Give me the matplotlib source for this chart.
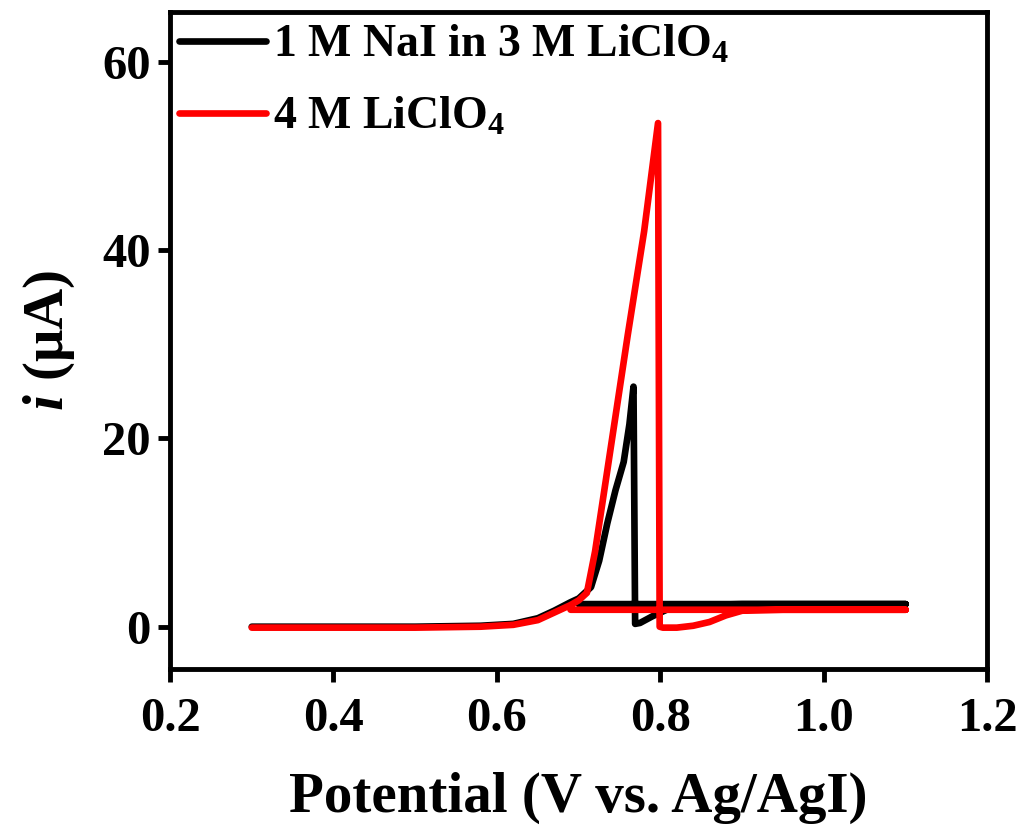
import matplotlib
matplotlib.use("Agg")
import matplotlib.pyplot as plt

plt.rcParams['font.family'] = 'Liberation Serif'
plt.rcParams['font.weight'] = 'bold'
plt.rcParams['mathtext.fontset'] = 'custom'
plt.rcParams['mathtext.rm'] = 'Liberation Serif:bold'
plt.rcParams['mathtext.it'] = 'Liberation Serif:italic:bold'
plt.rcParams['mathtext.bf'] = 'Liberation Serif:bold'

# 1 M NaI in 3 M LiClO4
v_nai = [0.30, 0.40, 0.50, 0.58, 0.62, 0.65, 0.67, 0.69, 0.70, 0.715, 0.725,
         0.735, 0.745, 0.755, 0.762, 0.767, 0.769, 0.775, 0.79, 0.81, 0.84,
         0.90, 1.00, 1.10, 0.90, 0.70]
i_nai = [0.0, 0.0, 0.0, 0.1, 0.3, 0.9, 1.7, 2.6, 3.0, 4.2, 7.0,
         11.0, 14.5, 17.5, 21.5, 25.5, 0.3, 0.4, 1.1, 1.9, 2.3,
         2.4, 2.4, 2.4, 2.4, 2.4]

# 4 M LiClO4
v_li = [0.30, 0.40, 0.50, 0.58, 0.62, 0.65, 0.67, 0.69, 0.70, 0.71, 0.72,
        0.74, 0.76, 0.78, 0.797, 0.799, 0.803, 0.82, 0.84, 0.86, 0.88,
        0.90, 0.95, 1.10, 0.90, 0.69]
i_li = [-0.1, -0.1, -0.1, 0.0, 0.2, 0.7, 1.5, 2.3, 2.8, 3.6, 8.0,
        19.5, 31.0, 42.0, 53.5, 0.0, -0.1, -0.1, 0.1, 0.5, 1.2,
        1.7, 1.8, 1.8, 1.8, 1.8]

fig = plt.figure(figsize=(10.18, 8.26), dpi=100)
ax = fig.add_axes([0.167, 0.19, 0.803, 0.7955])

ax.plot(v_nai, i_nai, color='black', lw=4.8, solid_capstyle='round',
        solid_joinstyle='round', label='1 M NaI in 3 M LiClO$_4$')
ax.plot(v_li, i_li, color='#ff0000', lw=4.8, solid_capstyle='round',
        solid_joinstyle='round', label='4 M LiClO$_4$')

ax.set_xlim(0.2, 1.2)
ax.set_ylim(-4.5, 65.3)
ax.set_xticks([0.2, 0.4, 0.6, 0.8, 1.0, 1.2])
ax.set_yticks([0, 20, 40, 60])
ax.set_xticklabels(['0.2', '0.4', '0.6', '0.8', '1.0', '1.2'])

for s in ax.spines.values():
    s.set_linewidth(3.5)
ax.tick_params(direction='out', length=9, width=3.5, labelsize=35, pad=5)
ax.tick_params(axis='x', pad=11)

ax.set_xlabel('Potential (V vs. Ag/AgI)', fontsize=41, fontweight='bold', labelpad=22)
ax.set_ylabel(r'$i$ (μA)', fontsize=41, fontweight='bold', labelpad=18)

ax.legend(loc='upper left', bbox_to_anchor=(0.0, 0.995), frameon=False,
          fontsize=33, handlelength=1.9, handletextpad=0.15,
          borderaxespad=0.1, labelspacing=0.65, borderpad=0.1)

fig.savefig('out.png', dpi=100)
